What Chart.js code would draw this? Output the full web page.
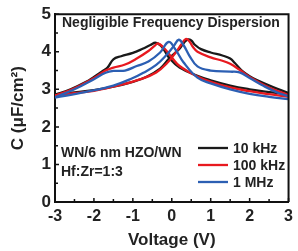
<!DOCTYPE html>
<html>
<head>
<meta charset="utf-8">
<script src="https://cdn.jsdelivr.net/npm/chart.js@4/dist/chart.umd.min.js"></script>
<style>
  html, body { margin: 0; padding: 0; background: #fff; }
  canvas { display: block; }
</style>
</head>
<body>
<canvas id="cvChart" width="298" height="251"></canvas>
<script>
// C-V butterfly loops. "up" = sweep -3 -> 3 (peak at +V), "down" = 3 -> -3
const freqLabels = ["10 kHz", "100 kHz", "1 MHz"];

const v10kUp   = [-3, -2.5, -2, -1.5, -1, -0.66, -0.3, -0.06, 0.2, 0.32, 0.42, 0.5, 0.6, 0.75, 1.0, 1.3, 1.5, 1.62, 1.8, 2.0, 2.2, 2.6, 3];
const c10kUp   = [2.87, 2.92, 2.98, 3.07, 3.2, 3.33, 3.55, 3.83, 4.08, 4.25, 4.33, 4.3, 4.18, 4.07, 3.98, 3.9, 3.82, 3.7, 3.5, 3.35, 3.24, 3.06, 2.9];
const v10kDown = [-3, -2.6, -2.2, -2.0, -1.8, -1.65, -1.5, -1.3, -1.0, -0.75, -0.55, -0.42, -0.3, -0.2, -0.06, 0.2, 0.66, 1.0, 1.5, 2.0, 2.4, 3];
const c10kDown = [2.85, 3.0, 3.2, 3.33, 3.47, 3.58, 3.8, 3.88, 3.97, 4.08, 4.18, 4.24, 4.18, 4.05, 3.83, 3.58, 3.36, 3.24, 3.1, 3.0, 2.94, 2.87];

const v100kUp   = [-3, -2.5, -2, -1.3, -0.8, -0.4, -0.1, 0.1, 0.25, 0.36, 0.45, 0.55, 0.66, 1.0, 1.3, 1.5, 1.74, 2.0, 2.5, 3];
const c100kUp   = [2.84, 2.9, 2.96, 3.12, 3.27, 3.45, 3.72, 3.98, 4.2, 4.34, 4.28, 4.12, 4.0, 3.85, 3.76, 3.68, 3.52, 3.33, 3.05, 2.85];
const v100kDown = [-3, -2.5, -2, -1.7, -1.5, -1.2, -0.9, -0.6, -0.45, -0.35, -0.2, 0, 0.2, 0.66, 1.0, 1.5, 2.0, 2.5, 3];
const c100kDown = [2.83, 3.03, 3.3, 3.5, 3.58, 3.66, 3.82, 4.02, 4.15, 4.22, 4.1, 3.85, 3.62, 3.34, 3.2, 3.05, 2.95, 2.87, 2.8];

const v1mUp   = [-3, -2.2, -1.5, -1.0, -0.73, -0.4, -0.15, 0.05, 0.18, 0.3, 0.45, 0.66, 1.0, 1.5, 1.74, 2.0, 2.34, 2.7, 3];
const c1mUp   = [2.78, 2.93, 3.1, 3.3, 3.44, 3.65, 3.9, 4.15, 4.32, 4.18, 3.9, 3.61, 3.5, 3.47, 3.45, 3.3, 3.1, 2.92, 2.82];
const v1mDown = [-3, -2.5, -2, -1.7, -1.5, -1.2, -0.9, -0.6, -0.3, -0.08, 0.1, 0.3, 0.66, 1.0, 1.5, 2.0, 2.5, 3];
const c1mDown = [2.79, 3.0, 3.27, 3.44, 3.49, 3.5, 3.62, 3.74, 3.98, 4.26, 4.05, 3.72, 3.31, 3.16, 3.0, 2.88, 2.8, 2.74];

const noteTop = "Negligible Frequency Dispersion";
const noteStack = ["WN/6 nm HZO/WN", "Hf:Zr=1:3"];

const colors = ["#1a1a1a", "#e8191f", "#2c5fb3"];
const FONT = "'Liberation Sans', Arial, sans-serif";

function pts(vs, cs) {
    return vs.map((v, i) => ({ x: v, y: cs[i] }));
}

function branch(vs, cs, k) {
    return {
        label: freqLabels[k],
        data: pts(vs, cs),
        borderColor: colors[k],
        borderWidth: 2.3,
        pointRadius: 0,
        showLine: true,
        fill: false,
        tension: 0.4,
        order: 3 - k,
    };
}

// frame on top/right, inward ticks, notes and the little legend
const decor = {
    id: "decor",
    afterDraw(chart) {
        const { ctx, chartArea: a, scales } = chart;
        ctx.save();
        ctx.strokeStyle = "#111";
        ctx.lineWidth = 2;
        ctx.beginPath();
        ctx.moveTo(a.left, a.top);
        ctx.lineTo(a.right, a.top);
        ctx.lineTo(a.right, a.bottom);
        ctx.stroke();

        ctx.lineWidth = 1.5;
        ctx.beginPath();
        for (let v = -3; v <= 3; v += 0.5) {
            const px = scales.x.getPixelForValue(v);
            const len = Number.isInteger(v) ? 4 : 3;
            ctx.moveTo(px, a.bottom);
            ctx.lineTo(px, a.bottom - len);
        }
        for (let c = 0; c <= 5; c += 0.5) {
            const py = scales.y.getPixelForValue(c);
            const len = Number.isInteger(c) ? 4 : 3;
            ctx.moveTo(a.left, py);
            ctx.lineTo(a.left + len, py);
        }
        ctx.stroke();

        ctx.fillStyle = "#222";
        ctx.font = "bold 14px " + FONT;
        ctx.textAlign = "left";
        ctx.textBaseline = "alphabetic";
        ctx.fillText(noteTop, 62, 27);
        ctx.fillText(noteStack[0], 61, 157);
        ctx.fillText(noteStack[1], 61, 176);

        chart.data.datasets.slice(0, 3).forEach((ds, i) => {
            const y = 148 + i * 17;
            ctx.strokeStyle = ds.borderColor;
            ctx.lineWidth = 2.3;
            ctx.beginPath();
            ctx.moveTo(198, y);
            ctx.lineTo(228, y);
            ctx.stroke();
            ctx.fillText(ds.label, 233, y + 5);
        });
        ctx.restore();
    },
};

new Chart(document.getElementById("cvChart"), {
    type: "scatter",
    data: {
        datasets: [
            branch(v10kUp, c10kUp, 0),
            branch(v100kUp, c100kUp, 1),
            branch(v1mUp, c1mUp, 2),
            branch(v10kDown, c10kDown, 0),
            branch(v100kDown, c100kDown, 1),
            branch(v1mDown, c1mDown, 2),
        ],
    },
    options: {
        responsive: false,
        animation: false,
        layout: { padding: { top: 10, right: 5, left: 0, bottom: 0 } },
        plugins: { legend: { display: false }, tooltip: { enabled: false } },
        scales: {
            x: {
                type: "linear",
                min: -3,
                max: 3,
                afterFit: (s) => { s.height = 49; },
                grid: { display: false, drawTicks: false },
                border: { display: true, color: "#111", width: 2 },
                ticks: { stepSize: 1, padding: 5, color: "#222", font: { family: FONT, size: 16, weight: "bold" } },
                title: { display: true, text: "Voltage (V)", color: "#222", padding: 0, font: { family: FONT, size: 17, weight: "bold" } },
            },
            y: {
                min: 0,
                max: 5,
                afterFit: (s) => { s.width = 55; },
                grid: { display: false, drawTicks: false },
                border: { display: true, color: "#111", width: 2 },
                ticks: { stepSize: 1, padding: 4, color: "#222", font: { family: FONT, size: 17, weight: "bold" } },
                title: { display: true, text: "C (μF/cm²)", color: "#222", padding: { top: 8, bottom: 0 }, font: { family: FONT, size: 17, weight: "bold" } },
            },
        },
    },
    plugins: [decor],
});
</script>
</body>
</html>
